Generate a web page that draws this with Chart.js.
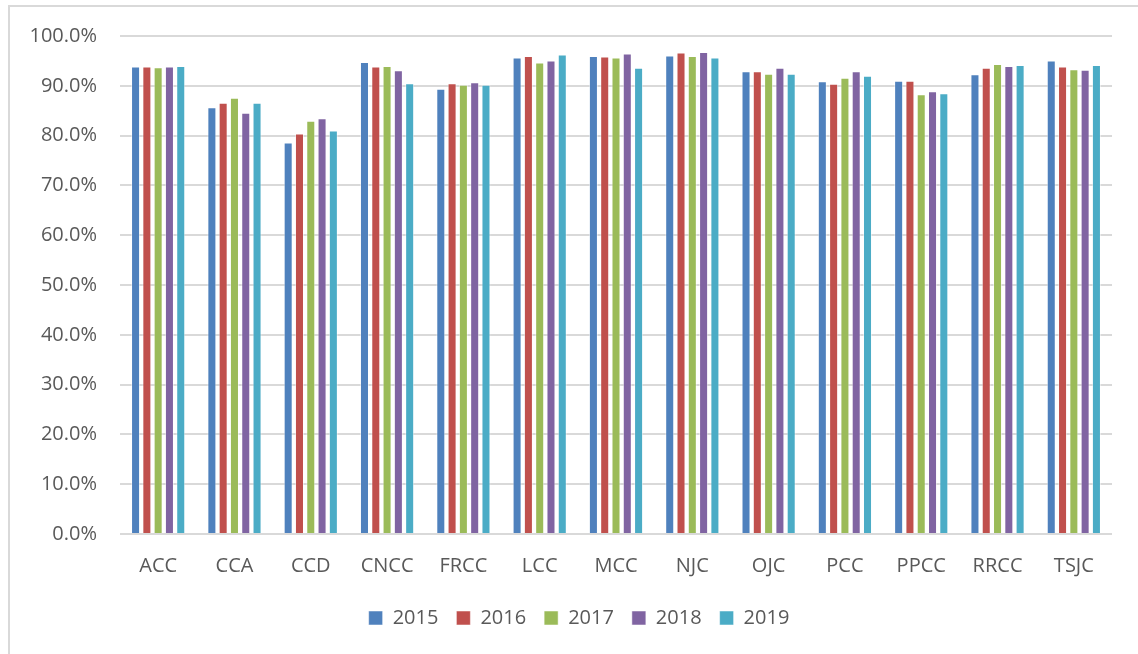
<!DOCTYPE html>
<html>
<head>
<meta charset="utf-8">
<script src="https://cdn.jsdelivr.net/npm/chart.js@4.4.1/dist/chart.umd.min.js"></script>
<style>
  html, body { margin: 0; padding: 0; background: #ffffff; }
  #wrap { position: relative; width: 1138px; height: 654px; overflow: hidden; }
  #frame { position: absolute; left: 8px; top: 5px; width: 1140px; height: 660px; border: 2px solid #d9d9d9; box-sizing: border-box; }
  canvas { position: absolute; left: 0; top: 0; }
</style>
</head>
<body>
<div id="wrap">
  <div id="frame"></div>
  <canvas id="c" width="1138" height="654"></canvas>
</div>
<script>
const categories = ["ACC", "CCA", "CCD", "CNCC", "FRCC", "LCC", "MCC", "NJC", "OJC", "PCC", "PPCC", "RRCC", "TSJC"];
const yearLabels = ["2015", "2016", "2017", "2018", "2019"];
const values2015 = [93.9, 85.7, 78.6, 94.8, 89.4, 95.7, 96.0, 96.1, 92.9, 90.9, 91.0, 92.3, 95.1];
const values2016 = [93.9, 86.6, 80.4, 93.9, 90.5, 96.0, 95.9, 96.7, 92.9, 90.4, 91.0, 93.6, 93.9];
const values2017 = [93.7, 87.6, 83.0, 94.0, 90.2, 94.7, 95.7, 96.0, 92.4, 91.6, 88.3, 94.4, 93.3];
const values2018 = [93.9, 84.6, 83.5, 93.1, 90.7, 95.1, 96.5, 96.8, 93.6, 92.9, 88.9, 94.0, 93.2];
const values2019 = [94.0, 86.6, 81.0, 90.5, 90.2, 96.3, 93.6, 95.7, 92.4, 92.0, 88.5, 94.2, 94.2];
const yTicks = [0, 10, 20, 30, 40, 50, 60, 70, 80, 90, 100];

const seriesValues = [values2015, values2016, values2017, values2018, values2019];
const colors = ["#4F81BD", "#C0504D", "#9BBB59", "#8064A2", "#4BACC6"];
const fontFamily = "'Open Sans', 'Liberation Sans', sans-serif";
const textColor = "#595959";
const fontSize = 20;

new Chart(document.getElementById("c"), {
  type: "bar",
  data: {
    labels: categories,
    datasets: yearLabels.map((y, i) => ({
      label: y,
      data: seriesValues[i],
      backgroundColor: colors[i],
      borderColor: "rgba(255,255,255,0.5)",
      borderWidth: 1,
      categoryPercentage: 0.74,
      barPercentage: 0.8
    }))
  },
  options: {
    responsive: false,
    animation: false,
    layout: { padding: { left: 20, right: 0, top: 36, bottom: 16 } },
    plugins: {
      tooltip: { enabled: false },
      legend: {
        position: "bottom",
        labels: {
          font: { family: fontFamily, size: fontSize },
          color: textColor,
          boxWidth: 14,
          boxHeight: 14,
          padding: 18
        }
      }
    },
    scales: {
      x: {
        grid: { display: false },
        border: { display: false },
        ticks: { font: { family: fontFamily, size: fontSize }, color: textColor, padding: 12 }
      },
      y: {
        min: 0,
        max: 100,
        afterFit: (s) => { s.width = 100; },
        afterBuildTicks: (s) => { s.ticks = yTicks.map(v => ({ value: v })); },
        grid: { color: "#d9d9d9", lineWidth: 2, drawTicks: false },
        border: { display: false },
        ticks: {
          font: { family: fontFamily, size: fontSize },
          color: textColor,
          padding: 23,
          callback: (v) => v.toFixed(1) + "%"
        }
      },
      yRight: {
        position: "right",
        min: 0,
        max: 100,
        afterFit: (s) => { s.width = 26; },
        grid: { display: false, drawTicks: false },
        border: { display: false },
        ticks: { display: false }
      }
    }
  }
});
</script>
</body>
</html>
